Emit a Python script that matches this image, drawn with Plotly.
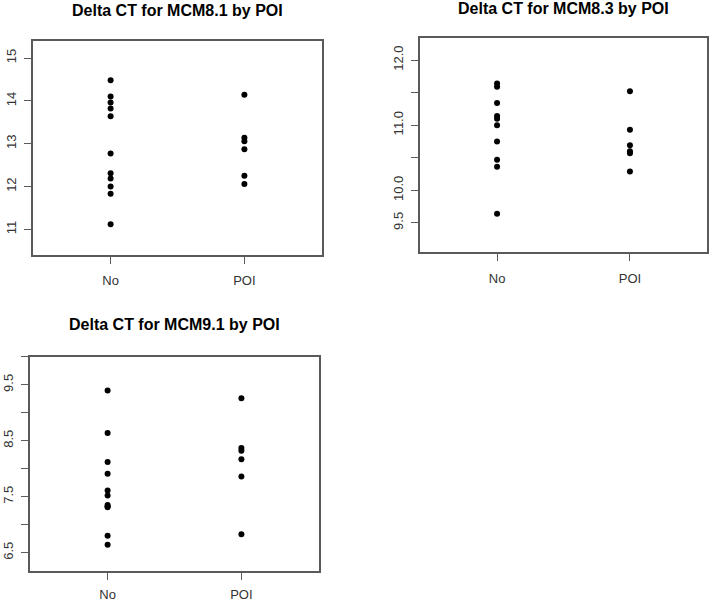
import plotly.graph_objects as go

groups = ["No", "POI"]

mcm81_no = [14.48, 14.10, 13.96, 13.82, 13.64, 12.77, 12.31, 12.19, 12.00, 11.83, 11.12]
mcm81_poi = [14.14, 13.14, 13.06, 12.87, 12.25, 12.06]

mcm83_no = [11.64, 11.59, 11.34, 11.14, 11.10, 11.00, 10.75, 10.47, 10.36, 9.64]
mcm83_poi = [11.52, 10.93, 10.69, 10.60, 10.57, 10.29]

mcm91_no = [9.40, 8.64, 8.12, 7.91, 7.61, 7.52, 7.35, 7.33, 7.31, 6.80, 6.64]
mcm91_poi = [9.26, 8.37, 8.32, 8.17, 7.86, 6.83]

titles = ["Delta CT for MCM8.1 by POI", "Delta CT for MCM8.3 by POI", "Delta CT for MCM9.1 by POI"]

W, H = 709, 602

panels = [
    dict(no=mcm81_no, poi=mcm81_poi, box=(33, 322, 41, 256), yr=[10.40, 15.40],
         tv=[11, 12, 13, 14, 15], tt=["11", "12", "13", "14", "15"], title=titles[0], ty=11, xs=6),
    dict(no=mcm83_no, poi=mcm83_poi, box=(420, 707, 38, 253), yr=[9.05, 12.34],
         tv=[9.5, 10, 10.5, 11, 11.5, 12], tt=["9.5", "10.0", "", "11.0", "", "12.0"], title=titles[1], ty=9, xs=6),
    dict(no=mcm91_no, poi=mcm91_poi, box=(30, 319, 358, 573), yr=[6.17, 10.0],
         tv=[6.5, 7, 7.5, 8, 8.5, 9, 9.5, 10], tt=["6.5", "", "7.5", "", "8.5", "", "9.5", ""], title=titles[2], ty=326, xs=4),
]

fig = go.Figure()
tickfont = dict(family="Liberation Sans, Arial", size=13, color="#333333")
linec = "#5a5a5a"

for i, p in enumerate(panels):
    n = "" if i == 0 else str(i + 1)
    xa, ya = "x" + n, "y" + n
    xs = [groups[0]] * len(p["no"]) + [groups[1]] * len(p["poi"])
    xnum = [1 if g == "No" else 2 for g in xs]
    fig.add_trace(go.Scatter(x=xnum, y=p["no"] + p["poi"], mode="markers",
                             marker=dict(color="black", size=6),
                             xaxis=xa, yaxis=ya, showlegend=False, hoverinfo="skip"))
    l, r, t, b = p["box"]
    fig.layout["xaxis" + n] = dict(
        domain=[l / W, r / W], range=[0.42, 2.58], anchor=ya,
        tickvals=[1, 2], ticktext=groups, ticks="outside", ticklen=7, tickcolor=linec,
        showline=True, mirror=True, linecolor=linec, linewidth=1.5,
        showgrid=False, zeroline=False, tickfont=tickfont, ticklabelstandoff=p["xs"])
    fig.layout["yaxis" + n] = dict(
        domain=[1 - b / H, 1 - t / H], range=p["yr"], anchor=xa,
        tickvals=p["tv"], ticktext=p["tt"], ticks="outside", ticklen=7, tickcolor=linec,
        showline=True, mirror=True, linecolor=linec, linewidth=1.5,
        showgrid=False, zeroline=False, tickfont=tickfont, tickangle=-90,
        ticklabelstandoff=3)
    fig.add_annotation(text="<b>" + p["title"] + "</b>", x=(l + r) / 2 / W, y=1 - p["ty"] / H,
                       xref="paper", yref="paper", showarrow=False, xanchor="center", yanchor="middle",
                       font=dict(family="Liberation Sans, Arial", size=16, color="black"))

fig.update_layout(width=W, height=H, margin=dict(l=0, r=0, t=0, b=0),
                  paper_bgcolor="white", plot_bgcolor="white")

fig.write_html("out.html", config={"displayModeBar": False},
               post_script="document.body.style.margin='0';document.body.style.overflow='hidden';")
